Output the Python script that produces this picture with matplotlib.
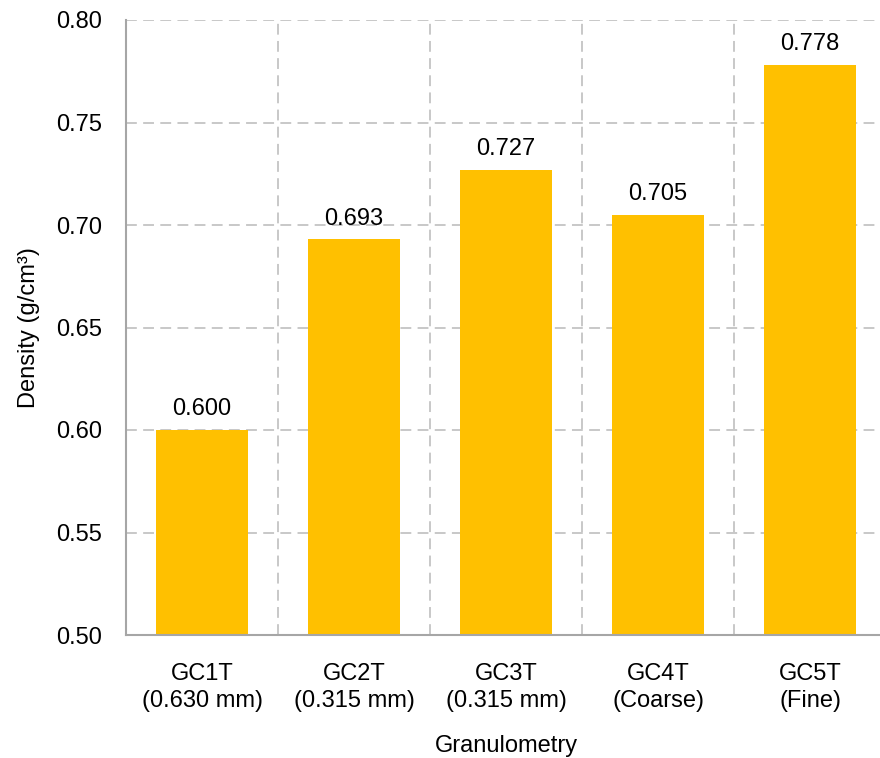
import matplotlib
matplotlib.use('Agg')
import matplotlib.pyplot as plt

plt.rcParams['font.family'] = ['Liberation Sans', 'DejaVu Sans']

# dados de densidade por granulometria
amostras = ['GC1T\n(0.630 mm)', 'GC2T\n(0.315 mm)', 'GC3T\n(0.315 mm)', 'GC4T\n(Coarse)', 'GC5T\n(Fine)']
densidade = [0.600, 0.693, 0.727, 0.705, 0.778]
rotulos = ['0.600', '0.693', '0.727', '0.705', '0.778']
yticks = [0.50, 0.55, 0.60, 0.65, 0.70, 0.75, 0.80]

cor_barra = '#FFC000'
cor_grade = '#C4C4C4'
cor_eixo = '#A6A6A6'
fs = 17

fig = plt.figure(figsize=(8.8, 7.58), dpi=100)
# eixo passa um pouco da borda direita
ax = fig.add_axes([126 / 880, 1 - 635 / 758, 760 / 880, 615 / 758])

x = list(range(len(amostras)))
ax.bar(x, densidade, width=0.61, color=cor_barra, zorder=3)

for xi, v, txt in zip(x, densidade, rotulos):
    ax.annotate(txt, xy=(xi, v), xytext=(0, 7), textcoords='offset points',
                ha='center', va='bottom', fontsize=fs, color='black', zorder=4)

ax.set_xlim(-0.5, len(amostras) - 0.5)
ax.set_ylim(0.50, 0.80)
ax.set_yticks(yticks)
ax.set_yticklabels([f'{t:.2f}' for t in yticks])
ax.set_xticks(x)
ax.set_xticklabels(amostras, linespacing=1.3)

# grade tracejada: horizontal nos ticks, vertical entre categorias
tracejado = (0, (6, 3.5))
for t in yticks[1:]:
    ax.axhline(t, color=cor_grade, linestyle=tracejado, linewidth=1.3, zorder=1)
for b in [i + 0.5 for i in x]:
    ax.axvline(b, color=cor_grade, linestyle=tracejado, linewidth=1.3, zorder=1)

for lado in ['top', 'right']:
    ax.spines[lado].set_visible(False)
for lado in ['left', 'bottom']:
    ax.spines[lado].set_color(cor_eixo)
    ax.spines[lado].set_linewidth(1.5)
    ax.spines[lado].set_zorder(5)

ax.tick_params(axis='both', length=0, labelsize=fs)
ax.tick_params(axis='y', pad=17)
ax.tick_params(axis='x', pad=20)

ax.set_ylabel('Density (g/cm³)', fontsize=fs, labelpad=12)
ax.set_xlabel('Granulometry', fontsize=fs, labelpad=17)

fig.savefig('out.png', dpi=100)
